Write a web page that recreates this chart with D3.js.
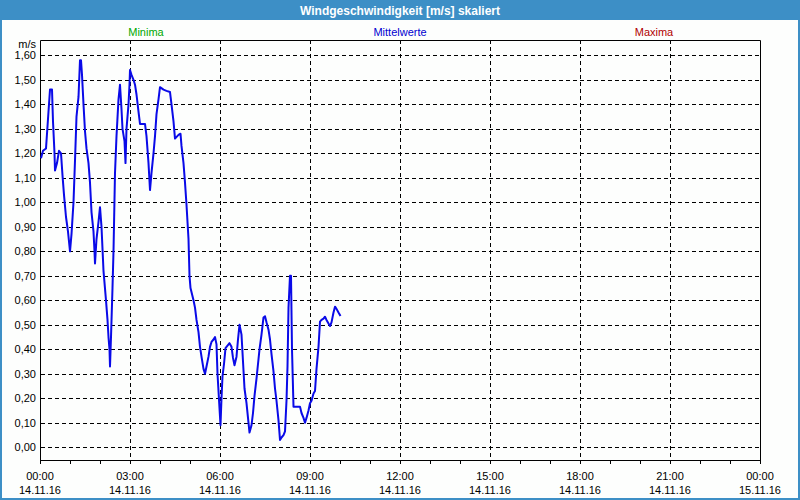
<!DOCTYPE html>
<html>
<head>
<meta charset="utf-8">
<script src="https://cdn.jsdelivr.net/npm/d3@7"></script>
<style>
  body { margin: 0; background: #fff; }
  text { font-family: "Liberation Sans", Arial, sans-serif; font-size: 11px; }
</style>
</head>
<body>
<div id="chart"></div>
<script>
"use strict";

// Windgeschwindigkeit, Minuten seit 14.11.16 00:00 und Wert in m/s
const minutes = [2, 6, 12, 18, 20, 24, 26, 29, 30, 34, 38, 42, 45, 48, 52, 56, 60, 63, 67, 70,
  73, 77, 80, 82, 84, 87, 90, 93, 97, 100, 103, 107, 109, 110, 113, 117, 120, 123, 127, 132,
  135, 137, 139, 140, 142, 145, 147, 150, 153, 157, 160, 163, 165, 169, 171, 173, 177, 179, 180, 183,
  187, 190, 193, 197, 200, 210, 213, 217, 220, 223, 227, 230, 233, 237, 240, 247, 253, 260, 263, 267,
  270, 277, 281, 283, 287, 290, 293, 297, 299, 301, 307, 310, 313, 317, 320, 323, 327, 330, 333, 337,
  340, 343, 347, 350, 353, 355, 359, 361, 363, 365, 368, 371, 375, 379, 383, 386, 389, 393, 396, 399,
  403, 406, 409, 413, 416, 419, 423, 426, 429, 433, 436, 439, 443, 447, 450, 453, 457, 460, 463, 467,
  470, 473, 477, 480, 483, 487, 490, 493, 495, 497, 500, 502, 504, 507, 513, 520, 523, 527, 530, 533,
  537, 540, 543, 547, 550, 553, 557, 560, 563, 567, 570, 573, 577, 580, 583, 587, 590, 593, 597, 601];
const speeds = [1.18, 1.21, 1.22, 1.40, 1.46, 1.46, 1.33, 1.20, 1.13, 1.16, 1.21, 1.20, 1.11, 1.03, 0.94, 0.88, 0.80, 0.87, 1.00, 1.17,
  1.35, 1.43, 1.58, 1.58, 1.52, 1.40, 1.29, 1.22, 1.16, 1.08, 0.96, 0.88, 0.80, 0.75, 0.85, 0.92, 0.98, 0.90, 0.72, 0.60,
  0.52, 0.45, 0.40, 0.33, 0.45, 0.65, 0.80, 1.12, 1.27, 1.42, 1.48, 1.38, 1.30, 1.25, 1.16, 1.30, 1.40, 1.48, 1.54, 1.52,
  1.50, 1.48, 1.44, 1.37, 1.32, 1.32, 1.27, 1.16, 1.05, 1.12, 1.20, 1.27, 1.36, 1.42, 1.47, 1.46, 1.455, 1.45, 1.40, 1.33,
  1.26, 1.275, 1.28, 1.23, 1.16, 1.08, 0.99, 0.85, 0.70, 0.65, 0.60, 0.57, 0.52, 0.47, 0.41, 0.37, 0.32, 0.30, 0.33, 0.37,
  0.41, 0.43, 0.44, 0.45, 0.42, 0.30, 0.16, 0.09, 0.20, 0.29, 0.34, 0.405, 0.415, 0.425, 0.41, 0.365, 0.335, 0.37, 0.44, 0.50,
  0.46, 0.35, 0.24, 0.18, 0.12, 0.06, 0.09, 0.14, 0.21, 0.28, 0.34, 0.40, 0.46, 0.53, 0.535, 0.51, 0.48, 0.44, 0.38, 0.31,
  0.24, 0.19, 0.11, 0.03, 0.04, 0.05, 0.065, 0.19, 0.33, 0.57, 0.70, 0.70, 0.40, 0.166, 0.166, 0.166, 0.14, 0.12, 0.10, 0.12,
  0.15, 0.18, 0.19, 0.22, 0.23, 0.32, 0.41, 0.513, 0.52, 0.525, 0.533, 0.52, 0.505, 0.495, 0.51, 0.55, 0.574, 0.565, 0.55, 0.536];

const yTicks = [0, 0.1, 0.2, 0.3, 0.4, 0.5, 0.6, 0.7, 0.8, 0.9, 1.0, 1.1, 1.2, 1.3, 1.4, 1.5, 1.6];
const legendNames = ["Minima", "Mittelwerte", "Maxima"];
const legendColors = ["#00a800", "#0000d0", "#b00000"];
const title = "Windgeschwindigkeit [m/s] skaliert";
const unit = "m/s";

const width = 800, height = 500;
const plotLeft = 40, plotRight = 760, plotTop = 40, plotBottom = 460;

const svg = d3.select("#chart").append("svg")
  .attr("width", width).attr("height", height);

// frame and title bar
svg.append("rect").attr("width", width).attr("height", height).attr("fill", "#3d8fc6");
svg.append("rect").attr("x", 2).attr("y", 20).attr("width", width - 4).attr("height", height - 22)
  .attr("fill", "#fdfefd");
svg.append("text").attr("x", width / 2).attr("y", 15).attr("text-anchor", "middle")
  .attr("fill", "#fff").style("font-weight", "bold").style("font-size", "12px").text(title);

const t0 = new Date(2016, 10, 14, 0, 0);
const t1 = new Date(2016, 10, 15, 0, 0);
const x = d3.scaleTime().domain([t0, t1]).range([plotLeft, plotRight]);
const y = d3.scaleLinear().domain([0, 1.6]).range([447.3, 55.3]);

const data = minutes.map((m, i) => ({ t: d3.timeMinute.offset(t0, m), v: speeds[i] }));

// legend
const legendX = d3.scalePoint().domain(legendNames).range([146, 654]);
svg.selectAll(".legend").data(legendNames).enter().append("text")
  .attr("x", d => legendX(d)).attr("y", 36).attr("text-anchor", "middle")
  .attr("fill", (d, i) => legendColors[i]).text(d => d);

// grid
svg.append("g").selectAll("line").data(yTicks).enter().append("line")
  .attr("x1", plotLeft + 1).attr("x2", plotRight)
  .attr("y1", d => Math.round(y(d)) + 0.5).attr("y2", d => Math.round(y(d)) + 0.5)
  .attr("stroke", "#000").attr("stroke-dasharray", "4,3");

const gridHours = x.ticks(d3.timeHour.every(3)).filter(d => d > t0 && d < t1);
svg.append("g").selectAll("line").data(gridHours).enter().append("line")
  .attr("x1", d => Math.round(x(d)) + 0.5).attr("x2", d => Math.round(x(d)) + 0.5)
  .attr("y1", plotTop).attr("y2", plotBottom)
  .attr("stroke", "#000").attr("stroke-dasharray", "4,3");

// plot border (left, top, right, bottom)
svg.append("path")
  .attr("d", `M${plotLeft + 0.5},${plotBottom + 0.5}V${plotTop + 0.5}H${plotRight + 0.5}V${plotBottom + 0.5}H${plotLeft + 0.5}`)
  .attr("fill", "none").attr("stroke", "#000");

// hour ticks
svg.append("g").selectAll("line").data(x.ticks(d3.timeHour.every(1))).enter().append("line")
  .attr("x1", d => Math.round(x(d)) + 0.5).attr("x2", d => Math.round(x(d)) + 0.5)
  .attr("y1", plotBottom).attr("y2", plotBottom + 4).attr("stroke", "#000");

// y labels
const fmt = d3.format(".2f");
svg.append("g").selectAll("text").data(yTicks).enter().append("text")
  .attr("x", 36).attr("y", d => y(d) + 4).attr("text-anchor", "end")
  .attr("fill", "#000").text(d => fmt(d).replace(".", ","));
svg.append("text").attr("x", 36).attr("y", 48).attr("text-anchor", "end").text(unit);

// x labels
const xLabels = x.ticks(d3.timeHour.every(3));
const timeFmt = d3.timeFormat("%H:%M"), dateFmt = d3.timeFormat("%d.%m.%y");
const xl = svg.append("g").selectAll("g").data(xLabels).enter().append("g");
xl.append("text").attr("x", d => x(d)).attr("y", 480).attr("text-anchor", "middle").text(timeFmt);
xl.append("text").attr("x", d => x(d)).attr("y", 494).attr("text-anchor", "middle").text(dateFmt);

// data line
const line = d3.line().x(d => x(d.t)).y(d => y(d.v));
svg.append("path").datum(data).attr("d", line)
  .attr("fill", "none").attr("stroke", "#0a0ae8").attr("stroke-width", 2)
  .attr("stroke-linejoin", "round");
</script>
</body>
</html>
